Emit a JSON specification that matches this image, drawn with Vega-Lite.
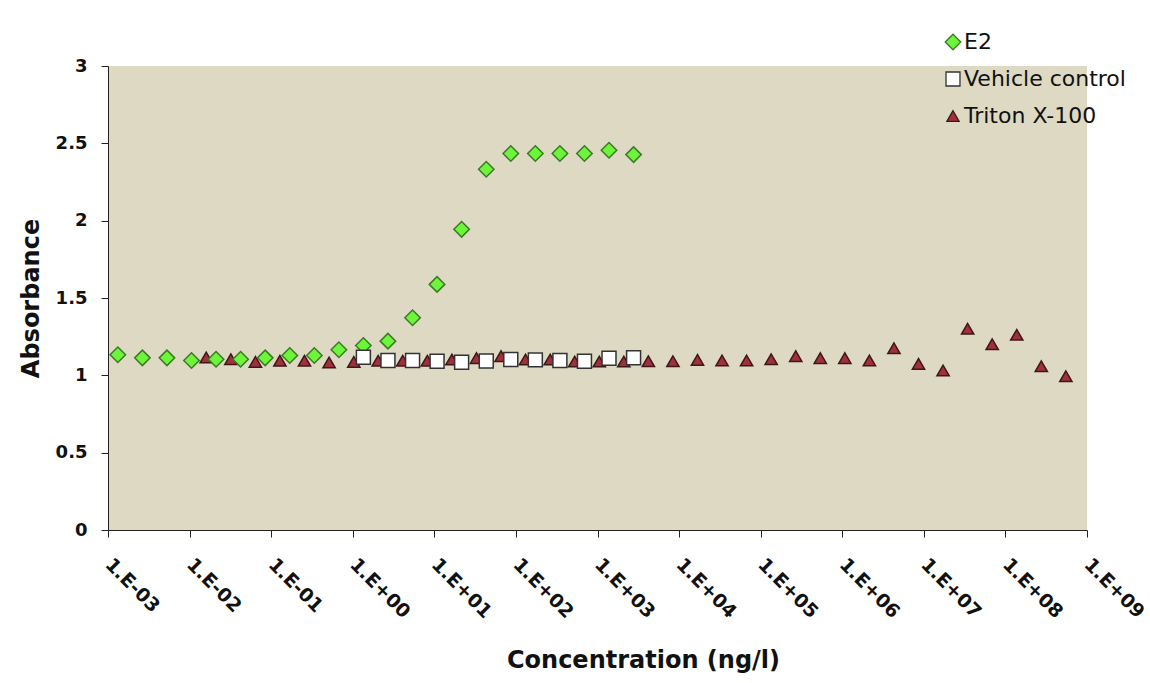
{
  "$schema": "https://vega.github.io/schema/vega-lite/v6.json",
  "autosize": "none",
  "width": 979,
  "height": 464,
  "padding": {"left": 108, "top": 66, "right": 63, "bottom": 153},
  "background": "#FFFFFF",
  "config": {
    "view": {"fill": "#DDD9C3", "stroke": null},
    "axis": {"grid": false, "domainColor": "#222222", "tickColor": "#222222", "domainWidth": 1, "tickWidth": 1, "tickSize": 7}
  },
  "data": {"values": [
    {"series": "Triton X-100", "conc": 0.0160, "abs": 1.115},
    {"series": "Triton X-100", "conc": 0.0321, "abs": 1.104},
    {"series": "Triton X-100", "conc": 0.0641, "abs": 1.087},
    {"series": "Triton X-100", "conc": 0.128, "abs": 1.094},
    {"series": "Triton X-100", "conc": 0.256, "abs": 1.094},
    {"series": "Triton X-100", "conc": 0.513, "abs": 1.083},
    {"series": "Triton X-100", "conc": 1.03, "abs": 1.087},
    {"series": "Triton X-100", "conc": 2.05, "abs": 1.094},
    {"series": "Triton X-100", "conc": 4.10, "abs": 1.094},
    {"series": "Triton X-100", "conc": 8.21, "abs": 1.094},
    {"series": "Triton X-100", "conc": 16.4, "abs": 1.102},
    {"series": "Triton X-100", "conc": 32.8, "abs": 1.111},
    {"series": "Triton X-100", "conc": 65.7, "abs": 1.124},
    {"series": "Triton X-100", "conc": 131, "abs": 1.102},
    {"series": "Triton X-100", "conc": 263, "abs": 1.102},
    {"series": "Triton X-100", "conc": 525, "abs": 1.089},
    {"series": "Triton X-100", "conc": 1051, "abs": 1.089},
    {"series": "Triton X-100", "conc": 2101, "abs": 1.089},
    {"series": "Triton X-100", "conc": 4203, "abs": 1.091},
    {"series": "Triton X-100", "conc": 8405, "abs": 1.091},
    {"series": "Triton X-100", "conc": 16810, "abs": 1.100},
    {"series": "Triton X-100", "conc": 33620, "abs": 1.096},
    {"series": "Triton X-100", "conc": 67240, "abs": 1.096},
    {"series": "Triton X-100", "conc": 134500, "abs": 1.104},
    {"series": "Triton X-100", "conc": 269000, "abs": 1.124},
    {"series": "Triton X-100", "conc": 537900, "abs": 1.111},
    {"series": "Triton X-100", "conc": 1075800, "abs": 1.111},
    {"series": "Triton X-100", "conc": 2151700, "abs": 1.096},
    {"series": "Triton X-100", "conc": 4303300, "abs": 1.175},
    {"series": "Triton X-100", "conc": 8606600, "abs": 1.074},
    {"series": "Triton X-100", "conc": 17213000, "abs": 1.031},
    {"series": "Triton X-100", "conc": 34426000, "abs": 1.301},
    {"series": "Triton X-100", "conc": 68853000, "abs": 1.201},
    {"series": "Triton X-100", "conc": 137700000, "abs": 1.262},
    {"series": "Triton X-100", "conc": 275400000, "abs": 1.059},
    {"series": "Triton X-100", "conc": 550800000, "abs": 0.994},
    {"series": "E2", "conc": 0.00132, "abs": 1.133},
    {"series": "E2", "conc": 0.00264, "abs": 1.113},
    {"series": "E2", "conc": 0.00528, "abs": 1.113},
    {"series": "E2", "conc": 0.01056, "abs": 1.096},
    {"series": "E2", "conc": 0.0211, "abs": 1.104},
    {"series": "E2", "conc": 0.0422, "abs": 1.104},
    {"series": "E2", "conc": 0.0845, "abs": 1.113},
    {"series": "E2", "conc": 0.169, "abs": 1.128},
    {"series": "E2", "conc": 0.338, "abs": 1.128},
    {"series": "E2", "conc": 0.676, "abs": 1.165},
    {"series": "E2", "conc": 1.35, "abs": 1.193},
    {"series": "E2", "conc": 2.70, "abs": 1.221},
    {"series": "E2", "conc": 5.41, "abs": 1.372},
    {"series": "E2", "conc": 10.8, "abs": 1.588},
    {"series": "E2", "conc": 21.6, "abs": 1.944},
    {"series": "E2", "conc": 43.3, "abs": 2.332},
    {"series": "E2", "conc": 86.5, "abs": 2.434},
    {"series": "E2", "conc": 173, "abs": 2.434},
    {"series": "E2", "conc": 346, "abs": 2.434},
    {"series": "E2", "conc": 692, "abs": 2.434},
    {"series": "E2", "conc": 1384, "abs": 2.455},
    {"series": "E2", "conc": 2769, "abs": 2.427},
    {"series": "Vehicle control", "conc": 1.35, "abs": 1.117},
    {"series": "Vehicle control", "conc": 2.70, "abs": 1.096},
    {"series": "Vehicle control", "conc": 5.41, "abs": 1.096},
    {"series": "Vehicle control", "conc": 10.8, "abs": 1.091},
    {"series": "Vehicle control", "conc": 21.6, "abs": 1.085},
    {"series": "Vehicle control", "conc": 43.3, "abs": 1.092},
    {"series": "Vehicle control", "conc": 86.5, "abs": 1.102},
    {"series": "Vehicle control", "conc": 173, "abs": 1.100},
    {"series": "Vehicle control", "conc": 346, "abs": 1.096},
    {"series": "Vehicle control", "conc": 692, "abs": 1.091},
    {"series": "Vehicle control", "conc": 1384, "abs": 1.111},
    {"series": "Vehicle control", "conc": 2769, "abs": 1.113}
  ]},
  "mark": {"type": "point", "filled": true, "strokeWidth": 1.5, "opacity": 1, "fillOpacity": 1, "strokeOpacity": 1},
  "encoding": {
    "x": {
      "field": "conc", "type": "quantitative",
      "scale": {"type": "log", "domain": [0.001, 1000000000], "nice": false},
      "axis": {
        "values": [0.001, 0.01, 0.1, 1, 10, 100, 1000, 10000, 100000, 1000000, 10000000, 100000000, 1000000000],
        "labelExpr": "'1.E' + (round(log(datum.value)/LN10) < 0 ? '-' : '+') + (abs(round(log(datum.value)/LN10)) < 10 ? '0' : '') + abs(round(log(datum.value)/LN10))",
        "labelAngle": 45, "labelAlign": "left", "labelBaseline": "middle",
        "labelPadding": 24, "labelFont": "DejaVu Sans", "labelFontWeight": "bold", "labelFontSize": 19,
        "labelColor": "#111111", "labelFlush": false, "labelOverlap": false, "labelBound": false,
        "title": "Concentration (ng/l)", "titleFont": "DejaVu Sans", "titleFontWeight": "bold", "titleFontSize": 24,
        "titleColor": "#111111", "titleX": 535, "titleY": 137, "titleBaseline": "alphabetic", "titleAnchor": "middle", "titleAlign": "center"
      }
    },
    "y": {
      "field": "abs", "type": "quantitative",
      "scale": {"domain": [0, 3], "nice": false, "zero": true},
      "axis": {
        "values": [0, 0.5, 1, 1.5, 2, 2.5, 3], "format": ".1~f",
        "labelFont": "DejaVu Sans", "labelFontWeight": "bold", "labelFontSize": 18, "labelColor": "#111111", "labelPadding": 14,
        "title": "Absorbance", "titleFont": "DejaVu Sans", "titleFontWeight": "bold", "titleFontSize": 24, "titleColor": "#111111",
        "titleX": -77, "titleY": 232, "titleBaseline": "middle", "titleAngle": -90, "titleAlign": "center"
      }
    },
    "fill": {
      "field": "series", "type": "nominal",
      "scale": {"domain": ["E2", "Vehicle control", "Triton X-100"], "range": ["#6CF53A", "#FFFFFF", "#A0303C"]},
      "legend": {
        "title": null, "orient": "none", "legendX": 834, "legendY": -35, "padding": 0,
        "labelFont": "DejaVu Sans", "labelFontSize": 22, "labelColor": "#111111", "labelOffset": 0, "labelLimit": 300,
        "symbolStrokeWidth": 1.3, "rowPadding": 15,
        "encode": {"symbols": {"update": {"size": {"value": 110}}}}
      }
    },
    "stroke": {
      "field": "series", "type": "nominal",
      "scale": {"domain": ["E2", "Vehicle control", "Triton X-100"], "range": ["#3C7A24", "#333333", "#3E1818"]}
    },
    "shape": {
      "field": "series", "type": "nominal",
      "scale": {"domain": ["E2", "Vehicle control", "Triton X-100"], "range": ["diamond", "square", "triangle-up"]}
    },
    "size": {
      "field": "series", "type": "nominal",
      "scale": {"domain": ["E2", "Vehicle control", "Triton X-100"], "range": [240, 150, 170]}
    }
  }
}
